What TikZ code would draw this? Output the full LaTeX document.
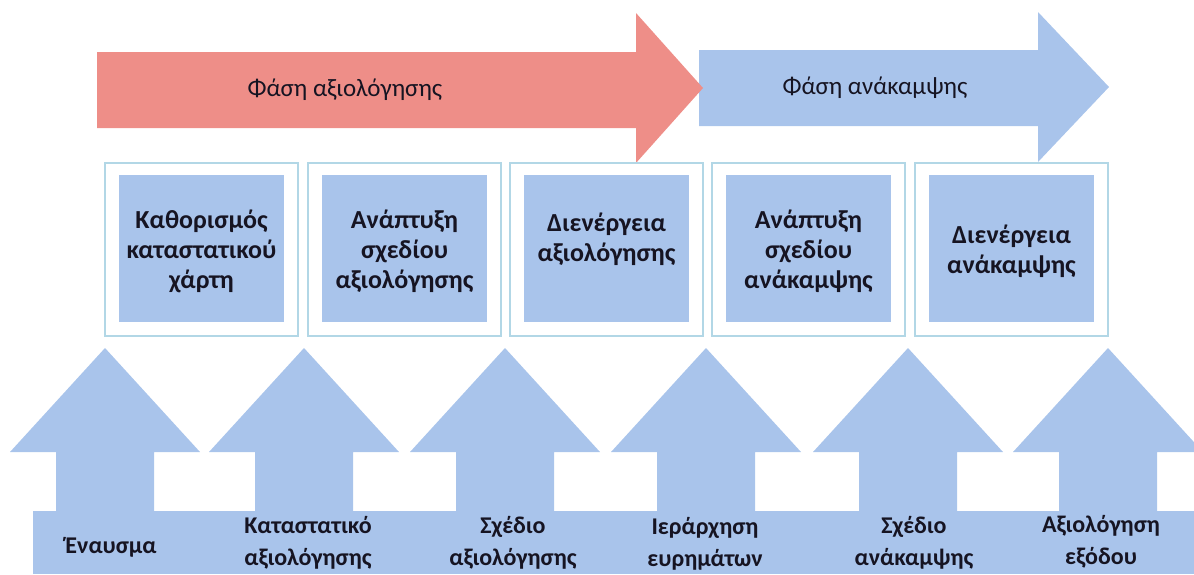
\documentclass[tikz,border=0pt]{standalone}
\usepackage{fontspec}
\setmainfont{Carlito}
\usetikzlibrary{calc}

\definecolor{phasered}{RGB}{238,142,136}
\definecolor{phaseblue}{RGB}{169,196,235}
\definecolor{frameblue}{RGB}{178,215,230}
\definecolor{textdark}{RGB}{22,20,34}

\begin{document}
\begin{tikzpicture}[x=1pt, y=-1pt,
    phasetext/.style={font=\fontsize{25}{30}\selectfont, text=textdark},
    stagetext/.style={font=\bfseries\fontsize{26}{30}\selectfont, text=textdark, align=center},
    inputtext/.style={font=\bfseries\fontsize{24}{32}\selectfont, text=textdark, align=center}]
  \useasboundingbox (0,0) rectangle (1194,574);
  \newcommand{\stagebox}[4][88]
  {%
    \begin{scope}[shift={#3}]
      \draw[frameblue, line width=2pt, fill=white] (0, 0) rectangle (193, 173);
      \fill[phaseblue] (14, 12) rectangle (179, 159);
      \node[stagetext] (#2) at (96.5, #1) {#4};
    \end{scope}%
  }%
  \newcommand{\inputarrow}[1]
  {%
    \begin{scope}[shift={#1}]
      \fill[phaseblue] (0, 0) -- (95, 104) -- (49, 104) -- (49, 170)
        -- (-49, 170) -- (-49, 104) -- (-95, 104) -- cycle;
    \end{scope}%
  }%
  % phases
  \fill[phaseblue] (699, 50) -- (1038, 50) -- (1038, 12) -- (1109, 87)
    -- (1038, 162) -- (1038, 126) -- (699, 126) -- cycle;
  \fill[phasered] (97, 52) -- (636, 52) -- (636, 13) -- (703, 88)
    -- (636, 163) -- (636, 128) -- (97, 128) -- cycle;
  \node[phasetext] (assessphase) at (345, 90) {Φάση αξιολόγησης};
  \node[phasetext] (recoveryphase) at (875, 88) {Φάση ανάκαμψης};
  % stages
  \stagebox{charter}{(105, 163)}{Καθορισμός\\καταστατικού\\χάρτη}
  \stagebox{assessplan}{(308, 163)}{Ανάπτυξη\\σχεδίου\\αξιολόγησης}
  \stagebox[76]{assessrun}{(510, 163)}{Διενέργεια\\αξιολόγησης}
  \stagebox{recoveryplan}{(712, 163)}{Ανάπτυξη\\σχεδίου\\ανάκαμψης}
  \stagebox{recoveryrun}{(915, 163)}{Διενέργεια\\ανάκαμψης}
  % inputs
  \inputarrow{(105, 348)}
  \inputarrow{(304, 348)}
  \inputarrow{(505, 348)}
  \inputarrow{(706, 348)}
  \inputarrow{(908, 348)}
  \inputarrow{(1108, 348)}
  \fill[phaseblue] (33, 511) rectangle (1194, 574);
  \node[inputtext] (trigger) at (111, 547) {Έναυσμα};
  \node[inputtext] (assesscharter) at (308, 543) {Καταστατικό\\αξιολόγησης};
  \node[inputtext] (assessdoc) at (513, 543) {Σχέδιο\\αξιολόγησης};
  \node[inputtext] (findings) at (705, 544) {Ιεράρχηση\\ευρημάτων};
  \node[inputtext] (recoverydoc) at (914, 543) {Σχέδιο\\ανάκαμψης};
  \node[inputtext] (exitreview) at (1101, 542) {Αξιολόγηση\\εξόδου};
\end{tikzpicture}
\end{document}
